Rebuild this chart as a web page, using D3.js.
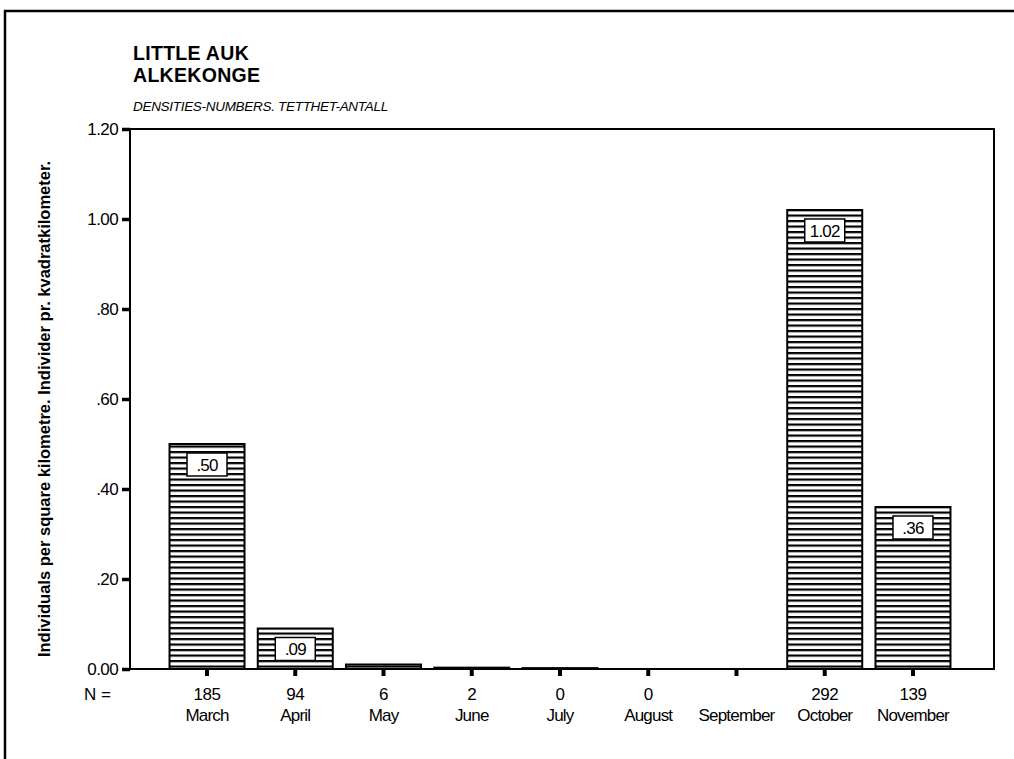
<!DOCTYPE html>
<html>
<head>
<meta charset="utf-8">
<script src="https://cdn.jsdelivr.net/npm/d3@7"></script>
<style>
  html, body { margin: 0; padding: 0; background: #fff; }
  svg { display: block; }
  text { font-family: "Liberation Sans", Arial, sans-serif; fill: #000; }
</style>
</head>
<body>
<svg id="chart" width="1014" height="759"></svg>
<script>
// ---- data ----
const months = ["March", "April", "May", "June", "July", "August", "September", "October", "November"];
const nValues = ["185", "94", "6", "2", "0", "0", "", "292", "139"];
const densities = [0.50, 0.09, 0.01, 0.003, 0.002, 0, 0, 1.02, 0.36];
const valueLabels = [".50", ".09", "", "", "", "", "", "1.02", ".36"];
const yTickValues = [0, 0.2, 0.4, 0.6, 0.8, 1.0, 1.2];
const yTickLabels = ["0.00", ".20", ".40", ".60", ".80", "1.00", "1.20"];
const titleLines = ["LITTLE AUK", "ALKEKONGE"];
const subtitle = "DENSITIES-NUMBERS. TETTHET-ANTALL";
const yAxisTitle = "Individuals per square kilometre. Individer pr. kvadratkilometer.";

const svg = d3.select("#chart");

// outer frame (right / bottom edges lie outside the picture)
svg.append("path")
  .attr("d", "M5,770 L5,11 L1030,11")
  .attr("fill", "none").attr("stroke", "#000").attr("stroke-width", 2.5);

// hatch pattern
const defs = svg.append("defs");
const pat = defs.append("pattern")
  .attr("id", "hatch").attr("patternUnits", "userSpaceOnUse")
  .attr("width", 10).attr("height", 5.5);
pat.append("rect").attr("width", 10).attr("height", 5.5).attr("fill", "#fff");
pat.append("rect").attr("y", 0).attr("width", 10).attr("height", 2.2).attr("fill", "#000");

const plot = { left: 130, right: 994, top: 129, bottom: 669 };

const x = d3.scaleBand().domain(months)
  .range([162.9, 957.1]).paddingInner(0.15).paddingOuter(0.075);
const y = d3.scaleLinear().domain([0, 1.2]).range([plot.bottom, plot.top]);

// plot frame
svg.append("rect")
  .attr("x", plot.left).attr("y", plot.top)
  .attr("width", plot.right - plot.left).attr("height", plot.bottom - plot.top)
  .attr("fill", "none").attr("stroke", "#000").attr("stroke-width", 2);

const data = months.map((m, i) => ({ month: m, v: densities[i], n: nValues[i], label: valueLabels[i] }));

// bars
svg.append("g").selectAll("rect").data(data.filter(d => d.v > 0)).join("rect")
  .attr("x", d => x(d.month))
  .attr("y", d => y(d.v))
  .attr("width", x.bandwidth())
  .attr("height", d => Math.max(0, y(0) - y(d.v)))
  .attr("fill", "url(#hatch)")
  .attr("stroke", "#000").attr("stroke-width", 2);

// value label boxes
const lab = svg.append("g").selectAll("g").data(data.filter(d => d.label)).join("g")
  .attr("transform", d => `translate(${x(d.month) + x.bandwidth() / 2},${y(d.v) + 9})`);
lab.append("rect")
  .attr("x", -20).attr("y", 0).attr("width", 40).attr("height", 23)
  .attr("fill", "#fff").attr("stroke", "#000").attr("stroke-width", 1.5);
lab.append("text")
  .attr("x", 0).attr("y", 17.5)
  .attr("text-anchor", "middle").attr("font-size", 17).attr("letter-spacing", -0.8)
  .text(d => d.label);

// y axis
const yAxis = d3.axisLeft(y).tickValues(yTickValues)
  .tickFormat((d, i) => yTickLabels[i]).tickSize(8).tickPadding(4);
const gy = svg.append("g").attr("transform", `translate(${plot.left},0)`).call(yAxis);
gy.select(".domain").remove();
gy.selectAll(".tick line").attr("stroke", "#000").attr("stroke-width", 3.5);
gy.selectAll(".tick text").attr("font-size", 17).attr("letter-spacing", -0.6)
  .attr("font-family", "Liberation Sans, Arial, sans-serif").attr("fill", "#000");

// x axis ticks
const xAxis = d3.axisBottom(x).tickSize(7).tickFormat("");
const gx = svg.append("g").attr("transform", `translate(0,${plot.bottom})`).call(xAxis);
gx.select(".domain").remove();
gx.selectAll(".tick line").attr("stroke", "#000").attr("stroke-width", 4);

// N row and months
svg.append("text").attr("x", 111).attr("y", 700).attr("text-anchor", "end")
  .attr("font-size", 17).text("N =");
svg.append("g").selectAll("text").data(data).join("text")
  .attr("x", d => x(d.month) + x.bandwidth() / 2).attr("y", 700)
  .attr("text-anchor", "middle").attr("font-size", 17).attr("letter-spacing", -0.4)
  .text(d => d.n);
svg.append("g").selectAll("text").data(data).join("text")
  .attr("x", d => x(d.month) + x.bandwidth() / 2).attr("y", 721)
  .attr("text-anchor", "middle").attr("font-size", 17).attr("letter-spacing", -0.8)
  .text(d => d.month);

// titles
svg.append("g").selectAll("text").data(titleLines).join("text")
  .attr("x", 133).attr("y", (d, i) => 60 + i * 22)
  .attr("font-size", 19.5).attr("font-weight", "bold").attr("letter-spacing", 0.3)
  .text(d => d);
svg.append("text").attr("x", 133).attr("y", 111)
  .attr("font-size", 13.5).attr("font-style", "italic").attr("letter-spacing", -0.3)
  .text(subtitle);

// y axis title
svg.append("text")
  .attr("transform", `translate(50,409) rotate(-90)`)
  .attr("text-anchor", "middle").attr("font-size", 16.5).attr("font-weight", "bold")
  .text(yAxisTitle);
</script>
</body>
</html>
